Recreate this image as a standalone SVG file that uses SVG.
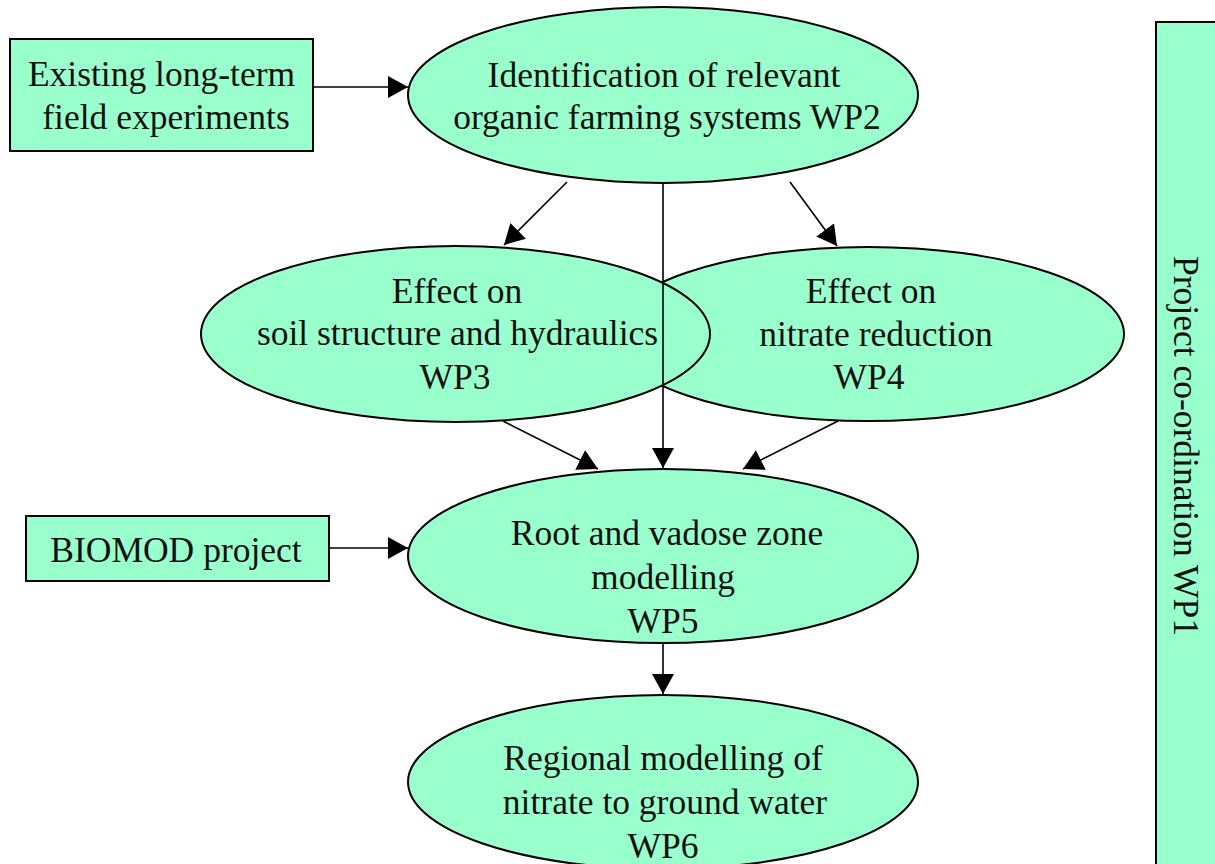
<svg xmlns="http://www.w3.org/2000/svg" width="1215" height="864" viewBox="0 0 1215 864">
<defs>
<style>
.n{fill:#99ffcc;stroke:#000;stroke-width:2}
.t{font-family:"Liberation Serif","Times New Roman",serif;font-size:35.5px;fill:#111;text-anchor:middle}
.c{stroke:#000;stroke-width:1.6;fill:none;marker-end:url(#ah)}
</style>
<marker id="ah" markerUnits="userSpaceOnUse" markerWidth="22" markerHeight="22" refX="20" refY="11" orient="auto" viewBox="0 0 22 22">
<path d="M0,0 L20,11 L0,22 z" fill="#000"/>
</marker>
</defs>
<rect width="1215" height="864" fill="#fff"/>

<g id="wp1">
<rect class="n" x="1156" y="22" width="100" height="900" stroke-width="1.6"/>
<text class="t" transform="rotate(90 1174 446)" x="1174" y="446" font-size="35">Project co-ordination WP1</text>
</g>

<g id="existing">
<rect class="n" x="10" y="39" width="303" height="112"/>
<text class="t" x="161.5" y="86">Existing long-term</text>
<text class="t" x="166" y="129">field experiments</text>
</g>

<g id="biomod">
<rect class="n" x="26" y="516" width="303" height="65"/>
<text class="t" x="176" y="562">BIOMOD project</text>
</g>

<g id="wp2">
<ellipse class="n" cx="663" cy="95" rx="255" ry="88"/>
<text class="t" x="664" y="87">Identification of relevant</text>
<text class="t" x="667" y="129">organic farming systems WP2</text>
</g>

<g id="wp4">
<ellipse class="n" cx="868" cy="334" rx="256" ry="87"/>
<text class="t" x="871" y="303">Effect on</text>
<text class="t" x="876" y="346">nitrate reduction</text>
<text class="t" x="869" y="389">WP4</text>
</g>

<g id="wp3">
<ellipse class="n" cx="455.5" cy="334" rx="254.5" ry="88"/>
<text class="t" x="457" y="303">Effect on</text>
<text class="t" x="457.5" y="345">soil structure and hydraulics</text>
<text class="t" x="455" y="389">WP3</text>
</g>

<g id="wp5">
<ellipse class="n" cx="663" cy="556" rx="255" ry="87"/>
<text class="t" x="667" y="545">Root and vadose zone</text>
<text class="t" x="663" y="589">modelling</text>
<text class="t" x="663" y="633">WP5</text>
</g>

<g id="wp6">
<ellipse class="n" cx="663" cy="782" rx="255" ry="87"/>
<text class="t" x="663" y="770">Regional modelling of</text>
<text class="t" x="665" y="814">nitrate to ground water</text>
<text class="t" x="663" y="858">WP6</text>
</g>

<g id="connectors">
<line class="c" x1="313" y1="87" x2="408" y2="87"/>
<line class="c" x1="329" y1="548" x2="408" y2="548"/>
<line class="c" x1="567" y1="182" x2="504" y2="245"/>
<line class="c" x1="790" y1="182" x2="837" y2="246"/>
<line class="c" x1="663" y1="183" x2="663" y2="468"/>
<line class="c" x1="503" y1="421" x2="598" y2="469"/>
<line class="c" x1="838" y1="421" x2="743" y2="469"/>
<line class="c" x1="663" y1="643" x2="663" y2="694"/>
</g>
</svg>
